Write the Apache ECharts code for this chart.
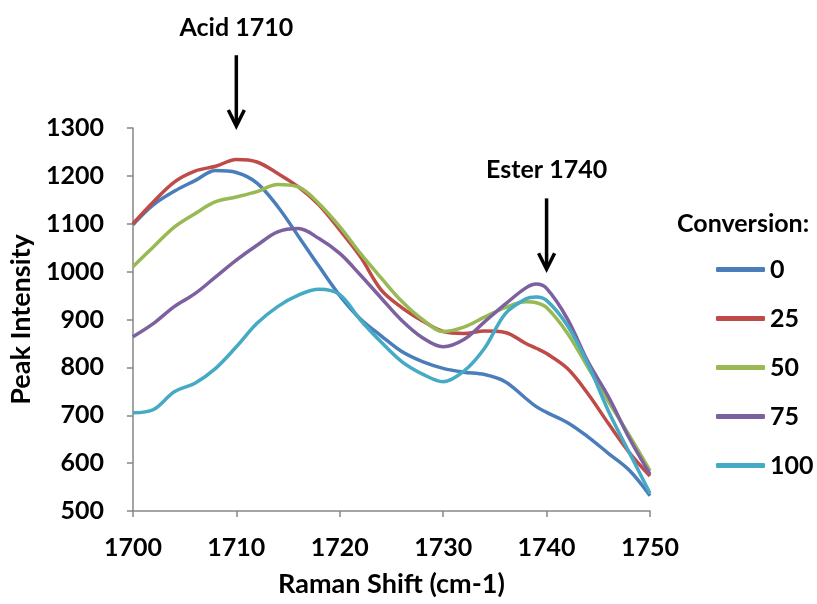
<!DOCTYPE html>
<html><head><meta charset="utf-8">
<script src="https://cdn.jsdelivr.net/npm/echarts@6/dist/echarts.min.js"></script>
<style>html,body{margin:0;padding:0;background:#fff}#c{width:817px;height:604px}</style>
</head><body><div id="c"></div>
<script>
const shifts  = [1700,1702,1704,1706,1708,1710,1712,1714,1716,1718,1720,1722,1724,1726,1728,1730,1732,1734,1736,1738,1739,1740,1742,1744,1746,1748,1750];
const conv0   = [1098,1140,1168,1190,1211,1207,1185,1136,1074,1011,950,901,866,833,812,798,790,785,770,735,718,706,685,655,620,585,532];
const conv25  = [1100,1146,1187,1210,1220,1234,1229,1205,1177,1139,1087,1031,962,925,897,875,871,876,873,850,840,829,798,745,682,622,573];
const conv50  = [1010,1052,1093,1121,1146,1156,1167,1182,1177,1142,1094,1038,987,938,900,875,884,905,925,937,935,925,872,800,728,658,584];
const conv75  = [864,892,927,954,989,1024,1055,1083,1090,1069,1038,993,945,898,862,843,858,895,932,966,974,965,902,812,738,652,577];
const conv100 = [705,712,749,767,798,843,892,927,951,963,952,899,853,812,786,770,792,840,912,943,947,940,888,807,708,622,537];
const seriesNames = ['0','25','50','75','100'];
const seriesData = [conv0, conv25, conv50, conv75, conv100];
const colors = ['#4A7EBB','#BE4B48','#98B954','#7D60A0','#46AAC5'];
const yTicks = [500,600,700,800,900,1000,1100,1200,1300];
const xTicks = [1700,1710,1720,1730,1740,1750];
const annotations = [
  {text:'Acid 1710', x:1710, textY:1510, top:1452, tip:1302},
  {text:'Ester 1740', x:1740, textY:1212, top:1153, tip:1003}
];
const FONT = 'Lato';
const chart = echarts.init(document.getElementById('c'));
const option = {
  animation:false,
  textStyle:{fontFamily:FONT},
  grid:{left:132, right:167, top:128, bottom:93},
  title:{text:'Conversion:', left:677, top:211, padding:0, textStyle:{fontFamily:FONT, fontWeight:'bold', fontSize:25, color:'#000'}},
  legend:{
    orient:'vertical', left:716, top:257, padding:0, itemWidth:49, itemHeight:5, itemGap:24,
    icon:'roundRect',
    textStyle:{fontFamily:FONT, fontWeight:'bold', fontSize:25, lineHeight:25, color:'#000'},
    data:seriesNames
  },
  xAxis:{
    type:'value', min:1700, max:1750, interval:10,
    name:'Raman Shift (cm-1)', nameLocation:'middle', nameGap:60,
    nameTextStyle:{fontFamily:FONT, fontWeight:'bold', fontSize:27, color:'#000'},
    axisLine:{lineStyle:{color:'#868686', width:1.5}},
    axisTick:{show:true, length:6, lineStyle:{color:'#868686', width:1.5}},
    axisLabel:{fontFamily:FONT, fontWeight:'bold', fontSize:25, color:'#000', margin:24,
      formatter:v=>xTicks.includes(v)?String(v):''},
    splitLine:{show:false}
  },
  yAxis:{
    type:'value', min:500, max:1300, interval:100,
    name:'Peak Intensity', nameLocation:'middle', nameGap:94, nameRotate:90,
    nameTextStyle:{fontFamily:FONT, fontWeight:'bold', fontSize:27, color:'#000'},
    axisLine:{show:true, lineStyle:{color:'#868686', width:1.5}},
    axisTick:{show:true, length:6, lineStyle:{color:'#868686', width:1.5}},
    axisLabel:{fontFamily:FONT, fontWeight:'bold', fontSize:25, color:'#000', margin:29,
      formatter:v=>yTicks.includes(v)?String(v):''},
    splitLine:{show:false}
  },
  series: seriesNames.map((n,i)=>({
    name:n, type:'line', smooth:0.35, showSymbol:false, symbol:'none',
    data: shifts.map((x,j)=>[x, seriesData[i][j]]),
    lineStyle:{color:colors[i], width:3.5},
    itemStyle:{color:colors[i]},
    z: 2
  }))
};
chart.setOption(option);
const gfx = [];
annotations.forEach(a=>{
  const pText = chart.convertToPixel({gridIndex:0}, [a.x, a.textY]);
  const pTop = chart.convertToPixel({gridIndex:0}, [a.x, a.top]);
  const pTip = chart.convertToPixel({gridIndex:0}, [a.x, a.tip]);
  gfx.push({type:'text', x:pText[0], y:pText[1], style:{text:a.text, fill:'#000', font:'bold 25px '+FONT, textAlign:'center', textVerticalAlign:'middle'}});
  gfx.push({type:'line', shape:{x1:pTop[0], y1:pTop[1], x2:pTip[0], y2:pTip[1]-2}, style:{stroke:'#000', lineWidth:3.5}});
  gfx.push({type:'polyline', shape:{points:[[pTip[0]-8,pTip[1]-17],[pTip[0],pTip[1]-1],[pTip[0]+8,pTip[1]-17]]}, style:{stroke:'#000', lineWidth:3.5, fill:null, lineJoin:'miter'}});
});
chart.setOption({graphic:gfx});
</script></body></html>
